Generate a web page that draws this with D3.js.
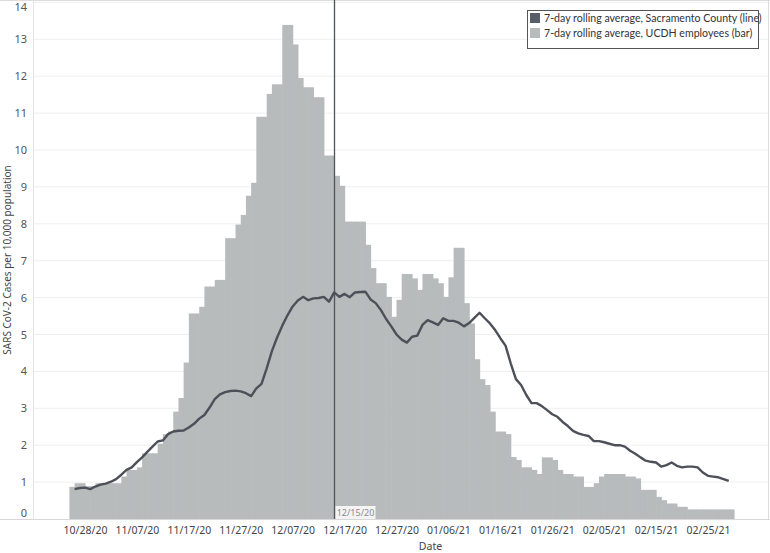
<!DOCTYPE html>
<html>
<head>
<meta charset="utf-8">
<script src="https://cdn.jsdelivr.net/npm/d3@7"></script>
<style>
  body { margin: 0; background: #fff; }
  text { font-family: "Noto Sans", sans-serif; }
  .legend text { font-family: Lato, sans-serif; }
</style>
</head>
<body>
<div id="chart"></div>
<script>
// UCDH employees, 7-day rolling average per 10,000 (one bar per day, from 10/25/20)
const barStart = "2020-10-25";
const barValues = [
  0.87, 0.97, 0.97, 0.89, 0.89, 0.97, 0.97, 0.97, 0.97, 0.97,
  1.15, 1.33, 1.33, 1.40, 1.78, 1.78, 1.78, 2.04, 2.30, 2.37,
  2.91, 3.28, 4.24, 5.57, 5.57, 5.75, 6.30, 6.30, 6.48, 6.48,
  7.61, 7.61, 7.98, 8.24, 8.76, 9.11, 10.9, 10.9, 11.52, 11.78,
  11.78, 13.39, 13.39, 12.86, 11.95, 11.70, 11.70, 11.43, 11.43, 9.85,
  9.85, 9.30, 9.03, 8.06, 8.06, 8.06, 8.06, 7.43, 6.80, 6.39,
  6.39, 6.02, 5.48, 5.94, 6.64, 6.64, 6.52, 6.21, 6.64, 6.64,
  6.52, 6.39, 6.02, 6.55, 7.35, 7.35, 5.85, 5.30, 4.33, 3.79,
  3.63, 2.91, 2.37, 2.37, 2.30, 1.68, 1.60, 1.40, 1.40, 1.33,
  1.22, 1.67, 1.67, 1.60, 1.33, 1.22, 1.22, 1.15, 1.15, 0.87,
  0.87, 0.97, 1.15, 1.22, 1.22, 1.22, 1.22, 1.15, 1.15, 1.10,
  0.79, 0.79, 0.79, 0.60, 0.51, 0.42, 0.42, 0.33, 0.33, 0.26,
  0.26, 0.26, 0.26, 0.26, 0.26, 0.26, 0.26, 0.26
];

// Sacramento County, 7-day rolling average per 10,000 (one point per day, from 10/26/20)
const lineStart = "2020-10-26";
const lineValues = [
  0.81, 0.84, 0.85, 0.81, 0.88, 0.93, 0.96, 1.01, 1.08, 1.20,
  1.33, 1.40, 1.54, 1.67, 1.82, 1.96, 2.10, 2.13, 2.30, 2.37,
  2.39, 2.40, 2.48, 2.58, 2.72, 2.82, 3.02, 3.25, 3.38, 3.44,
  3.47, 3.48, 3.46, 3.41, 3.33, 3.54, 3.66, 4.08, 4.55, 4.92,
  5.24, 5.52, 5.76, 5.92, 6.02, 5.93, 5.98, 5.99, 6.02, 5.89,
  6.14, 6.02, 6.10, 6.01, 6.14, 6.15, 6.16, 5.95, 5.85, 5.66,
  5.42, 5.22, 5.00, 4.86, 4.78, 4.94, 4.97, 5.26, 5.39, 5.33,
  5.26, 5.44, 5.37, 5.37, 5.32, 5.22, 5.31, 5.45, 5.59, 5.44,
  5.30, 5.12, 4.90, 4.70, 4.22, 3.79, 3.63, 3.36, 3.14, 3.14,
  3.06, 2.95, 2.84, 2.77, 2.63, 2.52, 2.39, 2.32, 2.28, 2.25,
  2.11, 2.11, 2.08, 2.04, 2.00, 2.00, 1.96, 1.85, 1.77, 1.67,
  1.58, 1.55, 1.53, 1.42, 1.46, 1.53, 1.44, 1.40, 1.42, 1.42,
  1.40, 1.26, 1.17, 1.15, 1.13, 1.08, 1.03
];

const tickDates = ["2020-10-28", "2020-11-07", "2020-11-17", "2020-11-27", "2020-12-07",
  "2020-12-17", "2020-12-27", "2021-01-06", "2021-01-16", "2021-01-26",
  "2021-02-05", "2021-02-15", "2021-02-25"];
const yTicks = [0, 1, 2, 3, 4, 5, 6, 7, 8, 9, 10, 11, 12, 13, 14];
const markerDate = "2020-12-15";
const legendItems = [
  { label: "7-day rolling average, Sacramento County (line)", color: "#5a5e68" },
  { label: "7-day rolling average, UCDH employees (bar)", color: "#b7bbbc" }
];

const W = 770, H = 553;
const plot = { left: 33, right: 768, top: 1, bottom: 519 };
const parse = d3.utcParse("%Y-%m-%d");
const fmt = d3.utcFormat("%m/%d/%y");

const bars = barValues.map((v, i) => ({ date: d3.utcDay.offset(parse(barStart), i), value: v }));
const line = lineValues.map((v, i) => ({ date: d3.utcDay.offset(parse(lineStart), i), value: v }));

const svg = d3.select("#chart").append("svg")
  .attr("width", W).attr("height", H);

// x anchored on the first and last tick labels
const x = d3.scaleUtc()
  .domain([parse(tickDates[0]), parse(tickDates[tickDates.length - 1])])
  .range([85, 708]);
const y = d3.scaleLinear().domain([0, 14]).range([plot.bottom, 2.4]);

// gridlines
svg.append("g")
  .selectAll("line")
  .data(yTicks.filter(d => d > 0))
  .join("line")
  .attr("x1", plot.left).attr("x2", plot.right)
  .attr("y1", d => y(d)).attr("y2", d => y(d))
  .attr("stroke", "#efefef");

// frame
svg.append("line").attr("x1", 0).attr("x2", W).attr("y1", 0.5).attr("y2", 0.5).attr("stroke", "#dcdcdc");
svg.append("line").attr("x1", plot.right + 0.5).attr("x2", plot.right + 0.5).attr("y1", 0).attr("y2", plot.bottom).attr("stroke", "#dcdcdc");
svg.append("line").attr("x1", plot.left + 0.5).attr("x2", plot.left + 0.5).attr("y1", 0).attr("y2", plot.bottom).attr("stroke", "#e4e4e4");

// bars
svg.append("g")
  .selectAll("rect")
  .data(bars)
  .join("rect")
  .attr("x", d => x(d.date))
  .attr("width", d => x(d3.utcDay.offset(d.date, 1)) - x(d.date) + 0.6)
  .attr("y", d => y(d.value))
  .attr("height", d => y(0) - y(d.value))
  .attr("fill", "#b7bbbc");

// x axis baseline
svg.append("line").attr("x1", 0).attr("x2", W).attr("y1", plot.bottom + 0.5).attr("y2", plot.bottom + 0.5).attr("stroke", "#d8d8d8");

// county line
svg.append("path")
  .datum(line)
  .attr("fill", "none")
  .attr("stroke", "#4d5058")
  .attr("stroke-width", 2.4)
  .attr("stroke-linejoin", "round")
  .attr("d", d3.line().x(d => x(d.date)).y(d => y(d.value)));

// reference line at 12/15/20
const mx = Math.round(x(parse(markerDate))) + 0.5;
svg.append("line")
  .attr("x1", mx).attr("x2", mx).attr("y1", 0).attr("y2", plot.bottom)
  .attr("stroke", "#4f545a").attr("stroke-width", 1.3);
svg.append("rect")
  .attr("x", mx + 1).attr("y", 506).attr("width", 40).attr("height", 13)
  .attr("fill", "#f4f4f4");
svg.append("text")
  .attr("x", mx + 21).attr("y", 516)
  .attr("text-anchor", "middle")
  .attr("font-size", 9)
  .attr("fill", "#8a8a8a")
  .text(fmt(parse(markerDate)));

// y axis labels
const yAxis = svg.append("g")
  .attr("transform", `translate(${plot.left},0)`)
  .call(d3.axisLeft(y).tickValues(yTicks).tickSize(0).tickPadding(6));
yAxis.select(".domain").remove();
yAxis.selectAll("text")
  .attr("font-size", 11)
  .attr("fill", "#555")
  .attr("transform", d => d === 14 ? "translate(0,5)" : d === 0 ? "translate(0,-6)" : null);

// x axis labels
const xAxis = svg.append("g")
  .attr("transform", `translate(0,${plot.bottom})`)
  .call(d3.axisBottom(x).tickValues(tickDates.map(parse)).tickFormat(fmt).tickSize(0).tickPadding(8));
xAxis.select(".domain").remove();
xAxis.selectAll("text")
  .attr("font-size", 10.5)
  .attr("fill", "#444");

// axis titles
svg.append("text")
  .attr("x", (plot.left + plot.right) / 2 + 30).attr("y", 550)
  .attr("text-anchor", "middle")
  .attr("font-size", 10.5)
  .attr("fill", "#444")
  .text("Date");
svg.append("text")
  .attr("transform", `translate(11,${(plot.top + plot.bottom) / 2}) rotate(-90)`)
  .attr("text-anchor", "middle")
  .attr("font-size", 10)
  .attr("fill", "#444")
  .text("SARS CoV-2 Cases per 10,000 population");

// legend
const legend = svg.append("g").attr("class", "legend").attr("transform", "translate(527,10)");
legend.append("rect")
  .attr("x", 0.5).attr("y", 0.5).attr("width", 231).attr("height", 38)
  .attr("fill", "#fff").attr("stroke", "#555").attr("stroke-width", 1);
legendItems.forEach((item, i) => {
  legend.append("rect")
    .attr("x", 3).attr("y", 3 + i * 15).attr("width", 10).attr("height", 10)
    .attr("fill", item.color);
  legend.append("text")
    .attr("x", 17).attr("y", 12 + i * 15)
    .attr("font-size", 10.6)
    .attr("fill", "#333")
    .text(item.label);
});
</script>
</body>
</html>
